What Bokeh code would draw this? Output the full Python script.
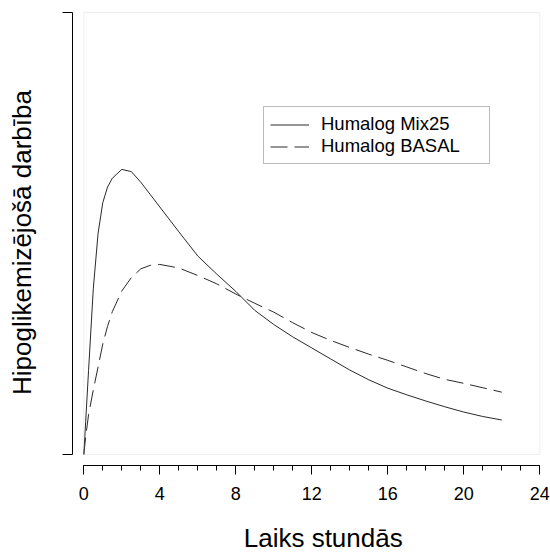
import math
from bokeh.plotting import figure
from bokeh.models import (Range1d, FixedTicker, BoxAnnotation, Legend, LegendItem,
                          LinearAxis, Label)
from bokeh.embed import file_html
from bokeh.resources import INLINE

# ---- data ----
hours = [0, 0.1, 0.25, 0.5, 0.75, 1, 1.25, 1.5, 2, 2.5, 3, 3.5, 4, 5, 6, 7, 8,
         9, 10, 11, 12, 13, 14, 15, 16, 17, 18, 19, 20, 21, 22]
mix25 = [0, 7.5, 19, 37.5, 50, 57, 60.5, 62.5, 64.5, 64.0, 61.6, 58.8, 56.0,
         50.4, 44.9, 40.8, 36.9, 32.6, 29.4, 26.6, 24.1, 21.6, 19.1, 16.9,
         15.0, 13.5, 12.1, 10.8, 9.6, 8.6, 7.8]
basal = [0, 4, 9, 14.6, 19.8, 25, 29, 32.3, 37, 40, 42, 42.8, 43.0, 42.2,
         40.5, 38.6, 36.3, 34.2, 32.2, 29.8, 27.6, 25.8, 24.2, 22.7, 21.3,
         19.8, 18.3, 17.0, 16.1, 15.1, 14.1]
series_names = ["Humalog Mix25", "Humalog BASAL"]
x_ticks = [0, 4, 8, 12, 16, 20, 24]
x_minor = list(range(0, 25))
y_ticks = [0, 100]
x_title = "Laiks stundās"
y_title = "Hipoglikemizējošā darbība"

FONT = "Liberation Sans"

# the frame fills the whole canvas; axes are drawn at fixed positions
p = figure(width=550, height=555, output_backend="svg", toolbar_location=None,
           x_range=Range1d(-4.384, 24.563), y_range=Range1d(-22.85, 102.71),
           x_axis_location=None, y_axis_location=None,
           min_border_left=0, min_border_right=0, min_border_top=0,
           min_border_bottom=0)
p.outline_line_color = None
p.grid.visible = False
p.background_fill_color = "white"
p.border_fill_color = "white"

# plot box
box = BoxAnnotation(left=x_ticks[0], right=x_ticks[-1], bottom=y_ticks[0], top=y_ticks[-1],
                    fill_color=None, line_color="#c8c8c8", line_width=1)
p.add_layout(box)

r1 = p.line(hours, mix25, line_color="#2a2a2a", line_width=1)
r2 = p.line(hours, basal, line_color="#2a2a2a", line_width=1, line_dash="17 7")

# x axis, offset below the box
xa = LinearAxis(fixed_location=-2.557)
xa.ticker = FixedTicker(ticks=x_ticks, minor_ticks=x_minor)
xa.bounds = (x_ticks[0], x_ticks[-1])
xa.axis_line_color = "black"
xa.major_tick_line_color = "black"
xa.minor_tick_line_color = "black"
xa.major_tick_out = 9
xa.major_tick_in = 0
xa.minor_tick_out = 5
xa.minor_tick_in = 0
xa.major_label_standoff = 12
xa.major_label_text_font = FONT
xa.major_label_text_font_size = "18px"
xa.major_label_text_color = "black"
p.add_layout(xa, "below")

# y axis, offset left of the box
ya = LinearAxis(fixed_location=-0.611)
ya.ticker = FixedTicker(ticks=y_ticks, minor_ticks=[])
ya.bounds = (y_ticks[0], y_ticks[-1])
ya.major_label_overrides = {t: "" for t in y_ticks}
ya.axis_line_color = "black"
ya.major_tick_line_color = "black"
ya.major_tick_out = 10
ya.major_tick_in = 0
ya.minor_tick_line_color = None
ya.major_label_standoff = 0
p.add_layout(ya, "left")

# axis titles
p.add_layout(Label(x=12.6, y=-19.0, text=x_title, text_align="center",
                   text_baseline="middle", text_font=FONT,
                   text_font_size="26px", text_color="black"))
p.add_layout(Label(x=-3.27, y=47.96, text=y_title, angle=math.pi / 2,
                   text_align="center", text_baseline="middle", text_font=FONT,
                   text_font_size="26px", text_color="black"))

legend = Legend(items=[LegendItem(label=series_names[0], renderers=[r1]),
                       LegendItem(label=series_names[1], renderers=[r2])],
                location=(263, 391))
legend.border_line_color = "#777777"
legend.border_line_width = 1
legend.background_fill_color = "white"
legend.background_fill_alpha = 1
legend.label_text_font = FONT
legend.label_text_font_size = "18.5px"
legend.label_text_color = "black"
legend.glyph_width = 39
legend.glyph_height = 19
legend.label_standoff = 12
legend.label_width = 162
legend.label_height = 19
legend.padding = 6
legend.spacing = 0
legend.margin = 0
p.add_layout(legend)

open("out.html", "w").write(file_html(p, INLINE))
